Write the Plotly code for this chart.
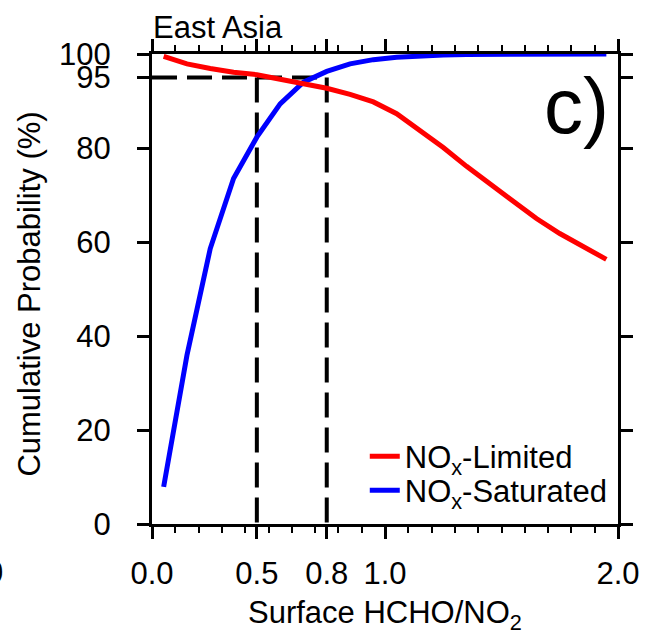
import plotly.graph_objects as go

# HCHO/NO2 bins (0.1 wide) and their centres
bin_width = 0.1
bin_centers = [0.05, 0.15, 0.25, 0.35, 0.45, 0.55, 0.65, 0.75, 0.85, 0.95,
               1.05, 1.15, 1.25, 1.35, 1.45, 1.55, 1.65, 1.75, 1.85, 1.95]

# cumulative probability (%) for each regime
nox_limited = [99.5, 97.9, 96.9, 96.1, 95.6, 94.7, 93.7, 92.7, 91.4, 89.8,
               87.3, 83.7, 80.1, 76.1, 72.3, 68.5, 65.0, 61.8, 58.9, 56.3]
nox_saturated = [7.9, 35.9, 58.6, 73.5, 82.3, 89.4, 94.0, 96.3, 97.9, 98.8,
                 99.3, 99.6, 99.8, 99.9, 99.9, 100.0, 100.0, 100.0, 100.0, 100.0]

# thresholds (upper bin edges) and cumulative cut level
thresholds = [0.5, 0.8]
cut_level = 95

x_tick_values = [0.0, 1.0, 2.0]
x_tick_text = ["0.0", "1.0", "2.0"]
y_tick_values = [0, 20, 40, 60, 80, 95, 100]

FONT = "Liberation Sans"
FS = 31

# threshold markers sit at the centre of the bin they close
marker_x = [t - bin_width / 2 for t in thresholds]

fig = go.Figure()

dash_style = dict(color="black", width=4, dash="25px,10px")
fig.add_trace(go.Scatter(x=[0, marker_x[-1]], y=[cut_level, cut_level], mode="lines",
                         line=dash_style, showlegend=False, hoverinfo="skip"))
for mx in marker_x:
    fig.add_trace(go.Scatter(x=[mx, mx], y=[cut_level, 0], mode="lines",
                             line=dash_style, showlegend=False, hoverinfo="skip"))

fig.add_trace(go.Scatter(x=bin_centers, y=nox_saturated, mode="lines",
                         name="NO<sub>x</sub>-Saturated", legend="legend2",
                         line=dict(color="#0000ff", width=5)))
fig.add_trace(go.Scatter(x=bin_centers, y=nox_limited, mode="lines",
                         name="NO<sub>x</sub>-Limited", legend="legend",
                         line=dict(color="#ff0000", width=5)))

all_tickvals = sorted(x_tick_values + marker_x)
all_ticktext = [x_tick_text[x_tick_values.index(v)] if v in x_tick_values
                else f"{thresholds[marker_x.index(v)]:.1f}" for v in all_tickvals]

minor_vals = [round(0.1 * k, 1) for k in range(1, 20) if k % 10 != 0]

fig.update_xaxes(range=[0, 2], showline=True, linecolor="black", linewidth=3,
                 mirror="ticks", ticks="outside", ticklen=12, tickwidth=3,
                 tickcolor="black", tickmode="array", tickvals=all_tickvals,
                 ticktext=all_ticktext, ticklabelstandoff=8,
                 tickfont=dict(family=FONT, size=FS, color="black"),
                 minor=dict(tickmode="array", tickvals=minor_vals, ticks="outside",
                            ticklen=6, tickwidth=2, tickcolor="black"),
                 showgrid=False, zeroline=False)
fig.update_yaxes(range=[0, 100], showline=True, linecolor="black", linewidth=3,
                 mirror="ticks", ticks="outside", ticklen=12, tickwidth=3,
                 tickcolor="black", tickmode="array", tickvals=y_tick_values,
                 ticklabelstandoff=20,
                 tickfont=dict(family=FONT, size=FS, color="black"),
                 showgrid=False, zeroline=False)

fig.add_annotation(text="East Asia", xref="paper", yref="paper", x=-0.003, y=1.056,
                   xanchor="left", yanchor="middle", showarrow=False,
                   font=dict(family=FONT, size=FS, color="black"))
fig.add_annotation(text="c)", xref="paper", yref="paper", x=0.985, y=0.89,
                   xanchor="right", yanchor="middle", showarrow=False,
                   font=dict(family=FONT, size=78, color="black"))
fig.add_annotation(text="Cumulative Probability (%)", xref="paper", yref="paper",
                   x=-0.262, y=0.49, textangle=-90, xanchor="center", yanchor="middle",
                   showarrow=False, font=dict(family=FONT, size=FS, color="black"))
fig.add_annotation(text="Surface HCHO/NO<sub>2</sub>", xref="paper", yref="paper",
                   x=0.5, y=-0.193, xanchor="center", yanchor="middle",
                   showarrow=False, font=dict(family=FONT, size=FS, color="black"))
fig.add_annotation(text="0", xref="paper", yref="paper", x=-0.315, y=-0.104,
                   xanchor="right", yanchor="middle", showarrow=False,
                   font=dict(family=FONT, size=FS, color="black"))

legend_style = dict(xanchor="left", yanchor="top", bgcolor="rgba(0,0,0,0)",
                    borderwidth=0, font=dict(family=FONT, size=31, color="black"),
                    itemwidth=30)

fig.update_layout(
    width=652, height=636,
    margin=dict(l=152, r=31, t=54, b=112, pad=0),
    paper_bgcolor="white", plot_bgcolor="white",
    showlegend=True,
    legend=dict(x=0.4566, y=0.2008, **legend_style),
    legend2=dict(x=0.4566, y=0.1286, **legend_style),
)

fig.write_html("out.html")
